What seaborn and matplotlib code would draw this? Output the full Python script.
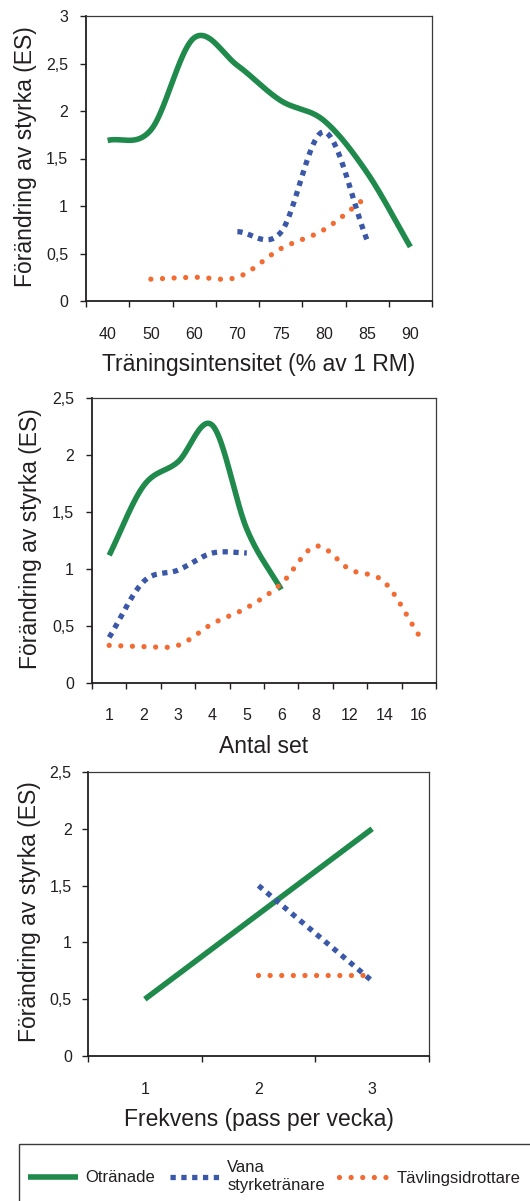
import numpy as np
import pandas as pd
import matplotlib
matplotlib.use('Agg')
import matplotlib.pyplot as plt
import seaborn as sns
from matplotlib.patches import Rectangle

nan = np.nan

# ---------------- data ----------------
series_names = ['Otränade', 'Vana\nstyrketränare', 'Tävlingsidrottare']

int_labels = ['40', '50', '60', '70', '75', '80', '85', '90']
int_otranade = [1.69, 1.80, 2.77, 2.48, 2.11, 1.90, 1.35, 0.57]
int_vana = [nan, nan, nan, 0.73, 0.72, 1.78, 0.64, nan]
int_tavling = [nan, 0.23, 0.25, 0.25, 0.55, 0.75, 1.10, nan]

set_labels = ['1', '2', '3', '4', '5', '6', '8', '12', '14', '16']
set_otranade = [1.12, 1.73, 1.94, 2.26, 1.35, 0.82, nan, nan, nan, nan]
set_vana = [0.40, 0.89, 0.99, 1.14, 1.14, nan, nan, nan, nan, nan]
set_tavling = [0.33, 0.32, 0.33, 0.52, 0.66, 0.87, 1.20, 0.995, 0.885, 0.42]

freq_labels = ['1', '2', '3']
freq_otranade = [0.50, 1.25, 2.00]
freq_vana = [nan, 1.50, 0.66]
freq_tavling = [nan, 0.71, 0.71]

yticks_3 = [0, 0.5, 1, 1.5, 2, 2.5, 3]
yticklabels_3 = ['0', '0,5', '1', '1,5', '2', '2,5', '3']
yticks_25 = [0, 0.5, 1, 1.5, 2, 2.5]
yticklabels_25 = ['0', '0,5', '1', '1,5', '2', '2,5']

ylabel_text = 'Förändring av styrka (ES)'
xlabel_int = 'Träningsintensitet (% av 1 RM)'
xlabel_set = 'Antal set'
xlabel_freq = 'Frekvens (pass per vecka)'

# ---------------- style ----------------
sns.set_theme(style='white')
plt.rcParams['font.family'] = ['Liberation Sans', 'DejaVu Sans']

text_color = '#231f20'
spine_color = '#231f20'
colors = ['#1f8a4c', '#3b58a8', '#f26b32']
line_styles = [
    dict(lw=4.0, dashes=None, cap='butt'),
    dict(lw=3.8, dashes=(1.0, 1.05), cap='butt'),
    dict(lw=3.8, dashes=(0.001, 2.2), cap='round'),
]


def excel_smooth(values, n=40):
    """Smoothed-line rendering (Catmull-Rom/Hermite) through the category values."""
    idx = [i for i, v in enumerate(values) if not np.isnan(v)]
    x = np.array(idx, float)
    y = np.array([values[i] for i in idx], float)
    k = len(y)
    if k < 2:
        return x, y
    m = np.empty(k)
    m[0] = y[1] - y[0]
    m[-1] = y[-1] - y[-2]
    for i in range(1, k - 1):
        m[i] = (y[i + 1] - y[i - 1]) / 2.0
    xs, ys = [], []
    for i in range(k - 1):
        t = np.linspace(0, 1, n, endpoint=(i == k - 2))
        h00 = 2 * t**3 - 3 * t**2 + 1
        h10 = t**3 - 2 * t**2 + t
        h01 = -2 * t**3 + 3 * t**2
        h11 = t**3 - t**2
        xs.append(x[i] + t * (x[i + 1] - x[i]))
        ys.append(h00 * y[i] + h10 * m[i] + h01 * y[i + 1] + h11 * m[i + 1])
    return np.concatenate(xs), np.concatenate(ys)


def draw_series(ax, values, k):
    xs, ys = excel_smooth(values)
    df = pd.DataFrame({'x': xs, 'y': ys})
    st = line_styles[k]
    sns.lineplot(data=df, x='x', y='y', ax=ax, color=colors[k], linewidth=st['lw'],
                 sort=False, estimator=None)
    line = ax.lines[-1]
    if st['dashes'] is not None:
        line.set_linestyle((0, st['dashes']))
        line.set_dash_capstyle(st['cap'])
    else:
        line.set_solid_capstyle(st['cap'])
    return line


def setup(ax, labels, ymax, yticks, yticklabels, xlabel, xpad, ypad):
    n = len(labels)
    ax.set_xlim(-0.5, n - 0.5)
    ax.set_ylim(0, ymax)
    ax.set_xticks(range(n))
    ax.set_xticklabels(labels)
    ax.set_xticks(np.arange(n + 1) - 0.5, minor=True)
    ax.tick_params(axis='x', which='major', bottom=True, length=0, pad=xpad,
                   labelsize=11.5, labelcolor=text_color)
    ax.tick_params(axis='x', which='minor', bottom=True, length=4, width=1.0,
                   direction='out', color=spine_color)
    ax.set_yticks(yticks)
    ax.set_yticklabels(yticklabels)
    ax.tick_params(axis='y', which='major', left=True, length=4.3, width=1.0,
                   direction='out', color=spine_color, pad=ypad,
                   labelsize=11.5, labelcolor=text_color)
    for side in ['left', 'bottom']:
        ax.spines[side].set_color(spine_color)
        ax.spines[side].set_linewidth(1.3)
    for side in ['top', 'right']:
        ax.spines[side].set_color('#3a3a3a')
        ax.spines[side].set_linewidth(0.9)
    ax.set_xlabel(xlabel, fontsize=16.5, color=text_color)
    ax.set_ylabel(ylabel_text, fontsize=16.5, color=text_color)
    ax.xaxis.label.set_va('center')
    ax.yaxis.label.set_va('center')
    ax.xaxis.set_label_coords(0.5, -0.222)
    ax.set_facecolor('white')


W, H = 530, 1201
fig = plt.figure(figsize=(W / 100, H / 100), dpi=100)
fig.patch.set_facecolor('white')


def rect(l, r, t, b):
    return [l / W, 1 - b / H, (r - l) / W, (b - t) / H]


ax1 = fig.add_axes(rect(86, 432, 16, 301))
ax2 = fig.add_axes(rect(92, 436, 398, 683))
ax3 = fig.add_axes(rect(88, 429, 772, 1056))

for k, vals in enumerate([int_otranade, int_vana, int_tavling]):
    draw_series(ax1, vals, k)
for k, vals in enumerate([set_otranade, set_vana, set_tavling]):
    draw_series(ax2, vals, k)
handles = []
for k, vals in enumerate([freq_otranade, freq_vana, freq_tavling]):
    handles.append(draw_series(ax3, vals, k))

setup(ax1, int_labels, 3, yticks_3, yticklabels_3, xlabel_int, 19, 8.6)
setup(ax2, set_labels, 2.5, yticks_25, yticklabels_25, xlabel_set, 17.8, 8.6)
setup(ax3, freq_labels, 2.5, yticks_25, yticklabels_25, xlabel_freq, 19, 7.4)
ax1.yaxis.set_label_coords(-0.176, 0.508)
ax2.yaxis.set_label_coords(-0.178, 0.508)
ax3.yaxis.set_label_coords(-0.172, 0.507)

# legend frame (extends beyond the figure edge as in the reference)
fig.patches.append(Rectangle((19 / W, -0.05), 1.2, (1 - 1144 / H) + 0.05,
                             transform=fig.transFigure, fill=False,
                             edgecolor='#3a3a3a', linewidth=1.0))

fig.legend(handles=handles, labels=series_names, loc='center left',
           bbox_to_anchor=(28 / W, 1 - 1176.5 / H), ncol=3, frameon=False,
           fontsize=12, handlelength=3.0, handletextpad=0.45,
           columnspacing=0.87, borderpad=0, borderaxespad=0,
           labelcolor=text_color)

fig.savefig('out.png', dpi=100, facecolor='white')
